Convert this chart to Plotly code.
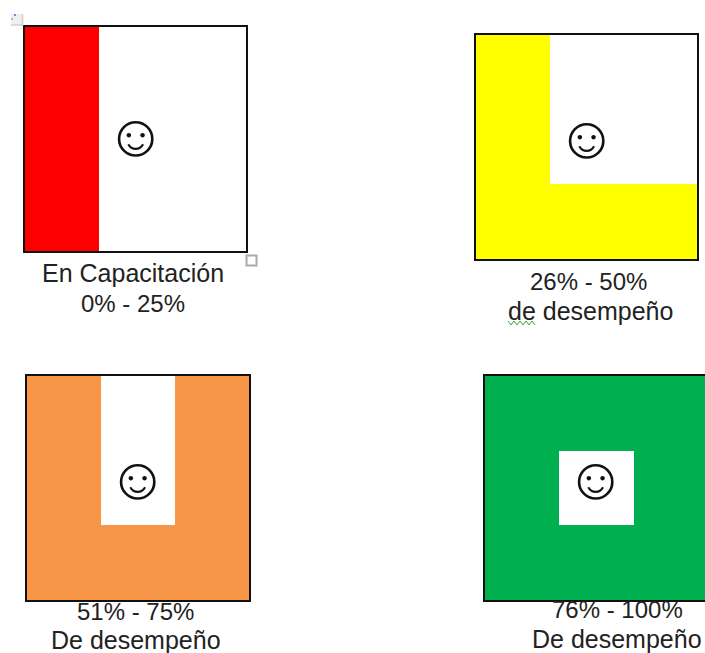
import plotly.graph_objects as go

# Each panel is a 3x3 grid: 1 = coloured cell, 0 = white cell (rows top to bottom)
red_cells = [[1, 0, 0], [1, 0, 0], [1, 0, 0]]
yellow_cells = [[1, 0, 0], [1, 0, 0], [1, 1, 1]]
orange_cells = [[1, 0, 1], [1, 0, 1], [1, 1, 1]]
green_cells = [[1, 1, 1], [1, 0, 1], [1, 1, 1]]
panel_colors = ["#FF0000", "#FFFF00", "#F79646", "#00B050"]
caption_top = ["En Capacitación", "26% - 50%", "51% - 75%", "76% - 100%"]
caption_bottom = ["0% - 25%", "de desempeño", "De desempeño", "De desempeño"]

W, H = 705, 653
px = lambda x: x / W
py = lambda y: 1 - y / H

# layout: left, right, top, bottom in pixels
boxes = [(25, 246, 27, 251), (475.5, 697, 35, 259), (27, 249, 376, 600), (485, 705, 376, 600)]
smiles = [(135, 135), (586.7, 136.5), (137.7, 478), (595.5, 478)]
cap1 = [(133, 273), (588, 281), (135, 611.5), (617, 609.5)]
cap2 = [(133, 303), (590.5, 311), (136, 640), (617, 639)]
size1 = [25, 24, 24, 24]
size2 = [24, 25, 25, 25]
grids = [red_cells, yellow_cells, orange_cells, green_cells]

fig = go.Figure()
layout = dict(
    width=W, height=H, autosize=False, margin=dict(l=0, r=0, t=0, b=0, pad=0),
    paper_bgcolor="white", plot_bgcolor="white", showlegend=False,
)
annots, shapes = [], []
font = "Liberation Sans"
for i, (grid, col, box) in enumerate(zip(grids, panel_colors, boxes)):
    s = "" if i == 0 else str(i + 1)
    clipped = box[1] >= W
    fig.add_trace(go.Heatmap(
        z=grid, xaxis="x" + s, yaxis="y" + s, showscale=False, zmin=0, zmax=1,
        colorscale=[[0, "white"], [1, col]], hoverinfo="skip",
    ))
    xr = [-0.5, 2.5] if not clipped else [-0.5, -0.5 + (box[1] - box[0]) / 74.3]
    layout["xaxis" + s] = dict(
        domain=[px(box[0]), px(box[1])], range=xr, anchor="y" + s,
        showgrid=False, zeroline=False, showticklabels=False, ticks="",
        showline=True, linecolor="#111", linewidth=1.6, mirror=True,
    )
    layout["yaxis" + s] = dict(
        domain=[py(box[3]), py(box[2])], range=[2.5, -0.5], anchor="x" + s,
        showgrid=False, zeroline=False, showticklabels=False, ticks="",
        showline=True, linecolor="#111", linewidth=1.6, mirror=not clipped,
    )
    annots.append(dict(
        text="☺", x=px(smiles[i][0]), y=py(smiles[i][1]), xref="paper", yref="paper",
        xanchor="center", yanchor="middle", showarrow=False,
        font=dict(family="DejaVu Sans ExtraLight, DejaVu Sans", size=60, color="#111", weight=200),
    ))
    for txts, pos, sz in ((caption_top, cap1, size1), (caption_bottom, cap2, size2)):
        annots.append(dict(
            text=txts[i], x=px(pos[i][0]), y=py(pos[i][1]), xref="paper", yref="paper",
            xanchor="center", yanchor="middle", showarrow=False,
            font=dict(family=font, size=sz[i], color="#222"),
        ))

def rect(x0, y0, x1, y1, line_color, line_width, fill):
    shapes.append(dict(type="rect", xref="paper", yref="paper", x0=px(x0), x1=px(x1),
                       y0=py(y0), y1=py(y1), fillcolor=fill,
                       line=dict(color=line_color, width=line_width)))

def polyline(points, color, width):
    path = "M " + " L ".join(f"{px(a):.5f},{py(b):.5f}" for a, b in points)
    shapes.append(dict(type="path", xref="paper", yref="paper", path=path,
                       line=dict(color=color, width=width)))

# selection handles left over from the word processor
rect(246.5, 255.5, 256.5, 265.5, "#AAAAAA", 2, "white")
rect(11, 14, 22, 25, "#F0F0F0", 0, "#F0F0F0")
polyline([(22.5, 14), (22.5, 25), (11, 25)], "#CFCFCF", 1.5)
rect(14, 14, 16, 16, "#6C93D8", 0, "#6C93D8")
rect(11, 18, 13, 20, "#9DB8E6", 0, "#9DB8E6")
# green spell-check squiggle
polyline([(508 + 3 * k, 321 + (k % 2) * 4) for k in range(10)], "#3AA53A", 1)

layout["annotations"] = annots
layout["shapes"] = shapes
fig.update_layout(**layout)
fig.write_html("out.html", config=dict(displayModeBar=False),
               post_script="document.body.style.margin='0';document.body.style.overflow='hidden';")
